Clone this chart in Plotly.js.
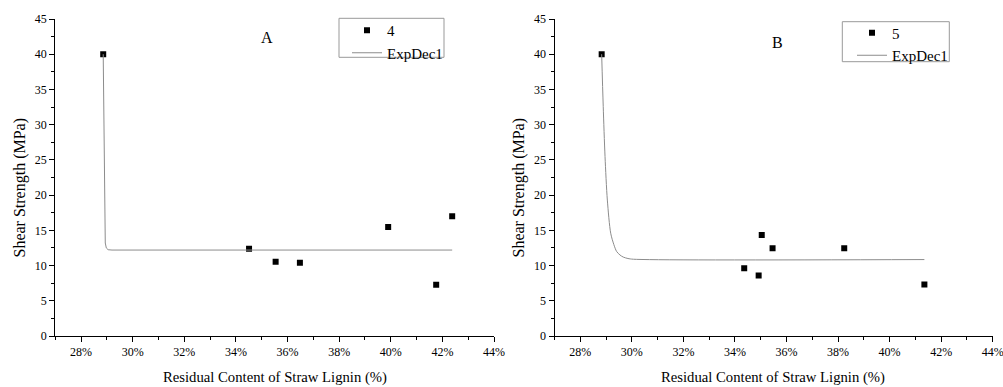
<!DOCTYPE html>
<html>
<head>
<meta charset="utf-8">
<script src="https://cdn.plot.ly/plotly-3.0.1.min.js"></script>
<style>html,body{margin:0;padding:0;background:#fff;}#chart{width:1003px;height:387px;}</style>
</head>
<body>
<div id="chart"></div>
<script>
// Panel A data (series "4")
var ligninA = [28.86, 34.51, 35.54, 36.48, 39.90, 41.76, 42.38];
var shearA  = [40.0, 12.4, 10.55, 10.4, 15.47, 7.29, 17.0];
// Panel A ExpDec1 fit curve
var fitXA = [28.86, 28.89, 28.91, 28.94, 28.98, 29.05, 29.2, 42.38];
var fitYA = [40.0, 25.0, 16.0, 13.2, 12.5, 12.25, 12.2, 12.2];

// Panel B data (series "5")
var ligninB = [28.83, 34.36, 34.92, 35.04, 35.46, 38.24, 41.35];
var shearB  = [40.0, 9.6, 8.6, 14.34, 12.45, 12.45, 7.3];
// Panel B ExpDec1 fit curve
var fitXB = [28.83, 28.89, 28.96, 29.05, 29.18, 29.30, 29.41, 29.54, 29.67, 29.85, 30.06, 41.35];
var fitYB = [40.0, 32.6, 25.5, 19.3, 14.6, 13.0, 12.0, 11.5, 11.2, 11.0, 10.9, 10.85];

var seriesNames = ["4", "5"];
var fitName = "ExpDec1";
var panelLabels = ["A", "B"];
var xTitle = "Residual Content of Straw Lignin (%)";
var yTitle = "Shear Strength (MPa)";

var W = 1003, H = 387;
function px(x){ return x / W; }
function py(y){ return 1 - y / H; }

var FONT = "Liberation Serif";

var traces = [
  {x: ligninA, y: shearA, type: 'scatter', mode: 'markers', name: seriesNames[0],
   marker: {symbol: 'square', size: 6, color: '#000'}, xaxis: 'x', yaxis: 'y', legend: 'legend'},
  {x: fitXA, y: fitYA, type: 'scatter', mode: 'lines', name: fitName,
   line: {color: '#8c8c8c', width: 1}, xaxis: 'x', yaxis: 'y', legend: 'legend'},
  {x: ligninB, y: shearB, type: 'scatter', mode: 'markers', name: seriesNames[1],
   marker: {symbol: 'square', size: 6, color: '#000'}, xaxis: 'x2', yaxis: 'y2', legend: 'legend2'},
  {x: fitXB, y: fitYB, type: 'scatter', mode: 'lines', name: fitName,
   line: {color: '#8c8c8c', width: 1, shape: 'spline', smoothing: 0.8}, xaxis: 'x2', yaxis: 'y2', legend: 'legend2'}
];

function xAxis(domain, anchor){
  return {
    domain: domain, anchor: anchor, range: [27, 44], tick0: 28, dtick: 2,
    ticksuffix: '%', ticks: 'outside', ticklen: 5, tickwidth: 1, tickcolor: '#000',
    showline: true, linecolor: '#000', linewidth: 1, showgrid: false, zeroline: false,
    ticklabeloverflow: 'allow',
    tickfont: {family: FONT, size: 12, color: '#000'},
    minor: {dtick: 1, tick0: 27, ticks: 'outside', ticklen: 3, tickwidth: 1, tickcolor: '#000', showgrid: false},
    fixedrange: true
  };
}
function yAxis(domain, anchor){
  return {
    domain: domain, anchor: anchor, range: [0, 45], tick0: 0, dtick: 5,
    ticks: 'outside', ticklen: 5, tickwidth: 1, tickcolor: '#000',
    showline: true, linecolor: '#000', linewidth: 1, showgrid: false, zeroline: false,
    tickfont: {family: FONT, size: 12, color: '#000'},
    minor: {dtick: 2.5, ticks: 'outside', ticklen: 3, tickwidth: 1, tickcolor: '#000', showgrid: false},
    fixedrange: true
  };
}

var yDom = [py(336), py(19)];

var layout = {
  width: W, height: H,
  margin: {l: 0, r: 0, t: 0, b: 0},
  paper_bgcolor: '#fff', plot_bgcolor: '#fff',
  font: {family: FONT, color: '#000'},
  showlegend: true,
  xaxis: xAxis([px(55.2), px(494)], 'y'),
  yaxis: yAxis(yDom, 'x'),
  xaxis2: xAxis([px(554.5), px(992.7)], 'y2'),
  yaxis2: yAxis(yDom, 'x2'),
  legend: {x: px(347), y: py(14), xanchor: 'left', yanchor: 'top',
           bgcolor: 'rgba(0,0,0,0)', borderwidth: 0, font: {family: FONT, size: 15, color: '#000'},
           tracegroupgap: 0, itemwidth: 30},
  legend2: {x: px(852), y: py(16.5), xanchor: 'left', yanchor: 'top',
           bgcolor: 'rgba(0,0,0,0)', borderwidth: 0, font: {family: FONT, size: 15, color: '#000'},
           tracegroupgap: 0, itemwidth: 30},
  shapes: [
    {type: 'rect', xref: 'paper', yref: 'paper', x0: px(339), x1: px(444), y0: py(57.3), y1: py(18.3),
     line: {color: '#999', width: 1}, fillcolor: 'rgba(0,0,0,0)', layer: 'above'},
    {type: 'rect', xref: 'paper', yref: 'paper', x0: px(842.3), x1: px(949.3), y0: py(61.7), y1: py(21.7),
     line: {color: '#999', width: 1}, fillcolor: 'rgba(0,0,0,0)', layer: 'above'}
  ],
  annotations: [
    {text: panelLabels[0], xref: 'paper', yref: 'paper', x: px(267), y: py(37.7), showarrow: false,
     xanchor: 'center', yanchor: 'middle', font: {family: FONT, size: 16, color: '#000'}},
    {text: panelLabels[1], xref: 'paper', yref: 'paper', x: px(777.7), y: py(42.3), showarrow: false,
     xanchor: 'center', yanchor: 'middle', font: {family: FONT, size: 16, color: '#000'}},
    {text: xTitle, xref: 'paper', yref: 'paper', x: px(275), y: py(377.5), showarrow: false,
     xanchor: 'center', yanchor: 'middle', font: {family: FONT, size: 14.7, color: '#000'}},
    {text: xTitle, xref: 'paper', yref: 'paper', x: px(773), y: py(377.5), showarrow: false,
     xanchor: 'center', yanchor: 'middle', font: {family: FONT, size: 14.7, color: '#000'}},
    {text: yTitle, xref: 'paper', yref: 'paper', x: px(19.5), y: py(188), showarrow: false, textangle: -90,
     xanchor: 'center', yanchor: 'middle', font: {family: FONT, size: 16, color: '#000'}},
    {text: yTitle, xref: 'paper', yref: 'paper', x: px(518.5), y: py(188), showarrow: false, textangle: -90,
     xanchor: 'center', yanchor: 'middle', font: {family: FONT, size: 16, color: '#000'}}
  ]
};

Plotly.newPlot('chart', traces, layout, {displayModeBar: false, staticPlot: true});
</script>
</body>
</html>
